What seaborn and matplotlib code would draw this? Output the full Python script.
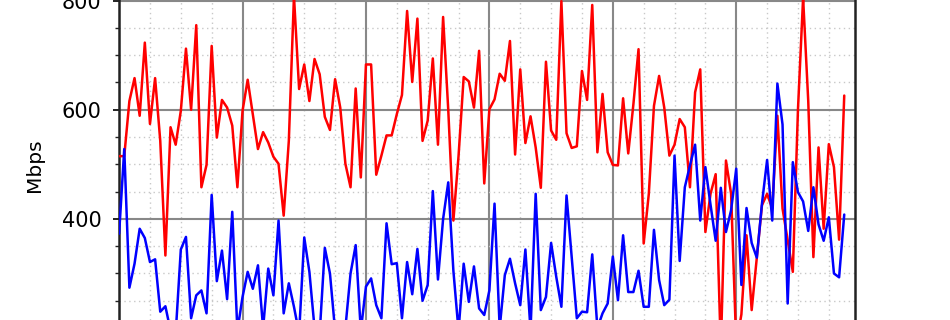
import matplotlib
matplotlib.use("Agg")
import matplotlib.pyplot as plt
from matplotlib.ticker import MultipleLocator
import numpy as np
import pandas as pd
import seaborn as sns

# ---- data (sample index, Mbps) ----
red_mbps = [
    515, 515, 616, 658, 589, 723, 574, 658, 543, 333,
    568, 536, 598, 712, 600, 755, 458, 499, 717, 549,
    618, 604, 571, 458, 598, 655, 592, 528, 559, 540,
    514, 501, 406, 543, 808, 638, 683, 616, 693, 665,
    587, 563, 656, 604, 501, 458, 639, 476, 683, 683,
    481, 516, 553, 553, 592, 627, 781, 651, 767, 543,
    580, 694, 536, 770, 600, 397, 515, 660, 652, 604,
    708, 465, 601, 619, 666, 653, 726, 518, 674, 539,
    588, 531, 457, 688, 562, 545, 799, 557, 530, 533,
    671, 618, 792, 522, 629, 522, 499, 498, 621, 520,
    610, 711, 355, 446, 607, 662, 604, 516, 536, 583,
    568, 458, 632, 674, 376, 446, 482, 160, 507, 446,
    170, 225, 370, 233, 330, 425, 446, 419, 589, 419,
    361, 303, 600, 805, 616, 330, 531, 382, 537, 495,
    362, 626,
]
blue_mbps = [
    373, 528, 274, 318, 382, 365, 321, 326, 230, 240,
    195, 190, 344, 367, 218, 260, 269, 227, 444, 286,
    342, 253, 413, 195, 257, 303, 272, 315, 200, 309,
    260, 397, 227, 282, 239, 190, 366, 303, 200, 190,
    347, 300, 195, 185, 200, 300, 352, 195, 276, 291,
    242, 218, 392, 317, 319, 218, 321, 262, 345, 250,
    279, 451, 289, 400, 467, 305, 195, 318, 248, 313,
    236, 224, 269, 428, 200, 297, 327, 282, 242, 344,
    195, 446, 233, 257, 356, 294, 239, 443, 330, 218,
    230, 229, 335, 200, 227, 245, 331, 251, 370, 266,
    266, 305, 239, 239, 380, 288, 242, 252, 516, 323,
    458, 498, 536, 397, 495, 426, 360, 457, 376, 416,
    492, 279, 420, 356, 329, 428, 508, 397, 648, 573,
    245, 504, 449, 432, 378, 458, 390, 360, 403, 300,
    293, 408,
]
sample_idx = list(range(len(red_mbps)))

df = pd.DataFrame({"t": sample_idx, "red": red_mbps, "blue": blue_mbps})

sns.set_style("white")
plt.rcParams["font.family"] = ["DejaVu Sans"]
plt.rcParams["text.color"] = "black"

W, H = 950, 320
fig = plt.figure(figsize=(W / 100, H / 100), dpi=100)
left_px, right_px = 118.8, 855.3
ax = fig.add_axes([left_px / W, 0.0, (right_px - left_px) / W, 1.0])

sns.lineplot(data=df, x="t", y="red", color="#ff0000", linewidth=1.8,
             estimator=None, ax=ax, zorder=3)
sns.lineplot(data=df, x="t", y="blue", color="#0000ff", linewidth=1.8,
             estimator=None, ax=ax, zorder=4)

ax.set_xlim(-0.06, 143.15)
ax.set_ylim(214.8, 801.1)

ax.xaxis.set_major_locator(MultipleLocator(24))
ax.xaxis.set_minor_locator(MultipleLocator(6))
ax.yaxis.set_major_locator(MultipleLocator(200))
ax.yaxis.set_minor_locator(MultipleLocator(50))

ax.grid(which="major", color="#888888", linewidth=1.5, linestyle="-", zorder=1)
ax.grid(which="minor", color="#c8c8c8", linewidth=1.0, linestyle=(0, (1, 2.5)), zorder=1)
ax.set_axisbelow(True)

ax.set_xlabel("")
ax.set_ylabel("")
ax.tick_params(axis="x", which="both", bottom=False, labelbottom=False)
ax.tick_params(axis="y", which="major", direction="out", length=4.5, width=1.4,
               color="#222222", labelsize=15, labelcolor="black", pad=8, left=True)
ax.tick_params(axis="y", which="minor", direction="out", length=3, width=1.0,
               color="#222222", left=True)

for side in ("top", "bottom"):
    ax.spines[side].set_visible(False)
for side in ("left", "right"):
    ax.spines[side].set_visible(True)
    ax.spines[side].set_color("#222222")
    ax.spines[side].set_linewidth(1.8)

fig.text(35 / W, 1 - 165.5 / H, "Mbps", rotation=90, ha="center", va="center",
         fontsize=14.5, color="black")

fig.savefig("out.png", dpi=100)
